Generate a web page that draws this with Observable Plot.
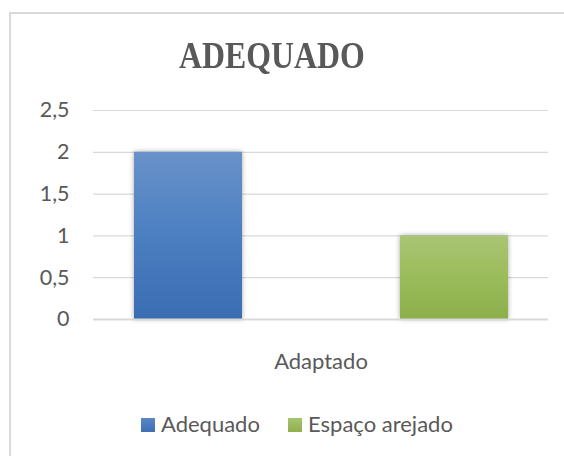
<!DOCTYPE html>
<html>
<head>
<meta charset="utf-8">
<script src="https://cdn.jsdelivr.net/npm/d3@7"></script>
<script src="https://cdn.jsdelivr.net/npm/@observablehq/plot@0.6"></script>
<style>
  html, body { margin: 0; padding: 0; background: #fff; overflow: hidden; width: 564px; height: 456px; }
  #wrap { position: relative; width: 564px; height: 456px; overflow: hidden; font-family: Lato, "Noto Sans", sans-serif; color: #595959; }
  #hline { position: absolute; left: 9px; top: 12px; width: 555px; height: 2px; background: #d9d9d9; }
  #vline { position: absolute; left: 9px; top: 12px; width: 2px; height: 444px; background: #d9d9d9; }
  #title { position: absolute; left: 0; width: 543px; top: 37px; text-align: center; font-family: "Liberation Serif", serif; font-weight: bold; font-size: 37px; line-height: 1; color: #595959; }
  #title span { display: inline-block; transform: scaleX(0.86); }
  #chart { position: absolute; left: 0; top: 0; }
  .lg { position: absolute; font-size: 22px; line-height: 1; white-space: nowrap; }
  .sw { position: absolute; width: 14px; height: 14px; }
</style>
</head>
<body>
<div id="wrap">
  <div id="hline"></div>
  <div id="vline"></div>
  <div id="chart"></div>
  <div id="title"><span>ADEQUADO</span></div>
  <div id="legend"></div>
</div>
<script>
const chartTitle = "ADEQUADO";
const categories = ["Adaptado"];
const series = ["Adequado", "Espaço arejado"];
const values = [2, 1];
const yTicks = [0, 0.5, 1, 1.5, 2, 2.5];
const seriesFills = ["url(#gBlue)", "url(#gGreen)"];

const data = series.map((s, i) => ({category: categories[0], series: s, value: values[i]}));

const chart = Plot.plot({
  width: 564,
  height: 456,
  marginTop: 110,
  marginBottom: 137,
  marginLeft: 93,
  marginRight: 16,
  style: {fontFamily: "Lato, 'Noto Sans', sans-serif", fontSize: "21.5px", color: "#595959", background: "transparent"},
  x: {domain: series, paddingInner: 0.595, paddingOuter: 0.15, axis: null},
  y: {domain: [0, 2.5], ticks: yTicks, tickFormat: d => String(d).replace(".", ","), tickSize: 0, tickPadding: 24, label: null},
  color: {domain: series, range: seriesFills},
  marks: [
    Plot.gridY(yTicks, {stroke: "#d9d9d9", strokeOpacity: 1, strokeWidth: 1.2}),
    Plot.barY(data, {x: "series", y: "value", fill: "series"}),
    Plot.ruleY([0], {stroke: "#d9d9d9", strokeWidth: 2}),
    Plot.text(categories, {text: d => d, frameAnchor: "bottom", lineAnchor: "bottom", dy: 49, fill: "#595959", fontSize: 22})
  ]
});

const svg = d3.select(chart);
const defs = svg.insert("defs", ":first-child");
const gb = defs.append("linearGradient").attr("id", "gBlue").attr("x1", 0).attr("y1", 0).attr("x2", 0).attr("y2", 1);
gb.append("stop").attr("offset", "0%").attr("stop-color", "#6a92c9");
gb.append("stop").attr("offset", "50%").attr("stop-color", "#4a7fc1");
gb.append("stop").attr("offset", "100%").attr("stop-color", "#3a6db2");
const gg = defs.append("linearGradient").attr("id", "gGreen").attr("x1", 0).attr("y1", 0).attr("x2", 0).attr("y2", 1);
gg.append("stop").attr("offset", "0%").attr("stop-color", "#a9c575");
gg.append("stop").attr("offset", "50%").attr("stop-color", "#9bbc5a");
gg.append("stop").attr("offset", "100%").attr("stop-color", "#8cae4b");
svg.selectAll("g[aria-label='bar'] rect").style("filter", "drop-shadow(0px 0px 2.5px rgba(0,0,0,0.35))");

document.getElementById("chart").appendChild(chart);

// legend
const legend = document.getElementById("legend");
const legendPos = [{sw: 141, tx: 161}, {sw: 288, tx: 308}];
series.forEach((s, i) => {
  const sw = document.createElement("div");
  sw.className = "sw";
  sw.style.left = legendPos[i].sw + "px";
  sw.style.top = "418px";
  sw.style.background = i === 0 ? "linear-gradient(#5a88c6, #3c6fb4)" : "linear-gradient(#a6c46f, #8fb04d)";
  legend.appendChild(sw);
  const tx = document.createElement("div");
  tx.className = "lg";
  tx.style.left = legendPos[i].tx + "px";
  tx.style.top = "413px";
  tx.textContent = s;
  legend.appendChild(tx);
});
</script>
</body>
</html>
